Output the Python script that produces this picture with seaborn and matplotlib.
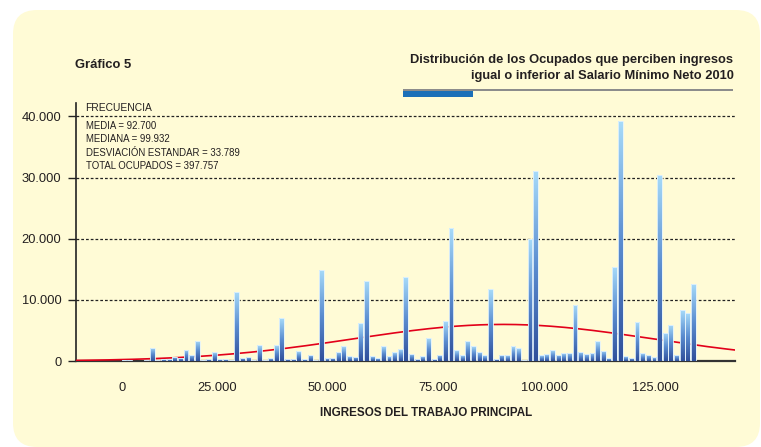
import numpy as np
import pandas as pd
import matplotlib
matplotlib.use('Agg')
import matplotlib.pyplot as plt
import seaborn as sns
from matplotlib.patches import FancyBboxPatch, Rectangle
from matplotlib.transforms import IdentityTransform, ScaledTranslation
from matplotlib.colors import LinearSegmentedColormap
from matplotlib.ticker import FuncFormatter

# histogram bins of income (pesos) and number of employed in each
primer_tramo = 5750
ancho_tramo = 1274
frecuencia = [
    80, 120, 165, 50, 50, 200,
    2200, 150, 300, 300, 700, 550, 1800, 1050, 3350, 100,
    400, 1400, 300, 300, 100, 11300, 550, 700, 100, 2600,
    150, 450, 2600, 7000, 400, 350, 1600, 300, 1050, 100,
    14900, 450, 550, 1500, 2400, 800, 700, 6150, 13100, 800,
    450, 2400, 750, 1400, 1900, 13700, 1200, 400, 750, 3700,
    400, 1050, 6500, 21700, 1750, 950, 3300, 2400, 1500, 950,
    11750, 400, 1050, 950, 2400, 2100, 100, 20000, 31100, 900,
    1100, 1750, 1050, 1250, 1350, 9200, 1500, 1200, 1350, 3200,
    1700, 450, 15400, 39200, 800, 550, 6300, 1300, 1050, 600,
    30500, 4650, 5900, 1050, 8300, 7800, 12600,
]
ingreso = primer_tramo + ancho_tramo * np.arange(len(frecuencia))

media = 92700
mediana = 99932
desviacion = 33789
total = 397757

x_ticks = [0, 25000, 50000, 75000, 100000, 125000]
y_ticks = [0, 10000, 20000, 30000, 40000]

df = pd.DataFrame({'ingreso': ingreso, 'frecuencia': frecuencia})

sns.set_theme(style='white')
# no condensed face installed, so Liberation Sans at slightly smaller sizes
plt.rcParams['font.family'] = ['Liberation Sans', 'DejaVu Sans']
texto = '#231f20'

W, H = 761, 447
fig = plt.figure(figsize=(W / 100, H / 100), dpi=100, facecolor='white')

# cream rounded panel
fondo = FancyBboxPatch((13, 0), 747, 437, boxstyle='round,pad=0,rounding_size=24',
                       transform=IdentityTransform(), fc='#fffbd6', ec='none', zorder=0)
fig.add_artist(fondo)

ax = fig.add_axes([76 / W, 1 - 361 / H, (735 - 76) / W, (361 - 103) / H])
ax.set_facecolor('none')

sns.barplot(data=df, x='ingreso', y='frecuencia', native_scale=True, width=0.86,
            color='#4a74bb', errorbar=None, ax=ax, zorder=4)

# vertical gradient inside every bar
cmap = LinearSegmentedColormap.from_list('azul', ['#30509b', '#5b8dd0', '#a6daf9'])
grad = np.linspace(0, 1, 64).reshape(-1, 1)
for p in list(ax.patches):
    x0, y0, w, h = p.get_x(), p.get_y(), p.get_width(), p.get_height()
    if h <= 0:
        continue
    im = ax.imshow(grad, extent=(x0, x0 + w, y0, y0 + h), origin='lower', cmap=cmap,
                   aspect='auto', interpolation='bilinear', zorder=4)
    im.set_clip_path(p)
    p.set_facecolor('none')
    p.set_edgecolor('#e4f3fc')
    p.set_linewidth(0.6)
    p.set_zorder(5)

# fitted normal curve
xs = np.linspace(-3840, 145100, 500)
ys = total * ancho_tramo * np.exp(-0.5 * ((xs - media) / desviacion) ** 2) / (desviacion * np.sqrt(2 * np.pi))
sns.lineplot(x=xs, y=ys, color='#e2001a', linewidth=1.2, ax=ax, zorder=3)

for v in y_ticks[1:]:
    ax.axhline(v, color='#222222', linestyle=(0, (2.2, 1.6)), linewidth=0.9, zorder=2)

ax.set_xlim(-3840, 145100)
ax.set_ylim(0, 42200)

sns.despine(ax=ax, top=True, right=True)
ax.spines['left'].set_color('#222222')
ax.spines['left'].set_linewidth(1.2)
ax.spines['bottom'].set_color('#333333')
ax.spines['bottom'].set_linewidth(1.6)

fmt = FuncFormatter(lambda v, p: f'{v:,.0f}'.replace(',', '.'))
ax.set_yticks(y_ticks)
ax.yaxis.set_major_formatter(fmt)
ax.tick_params(axis='y', direction='out', length=6, width=1, color='#222222',
               pad=4.5, labelsize=9.3, labelcolor=texto, left=True)
ax.set_xticks(x_ticks)
ax.set_xticklabels([fmt(v, None) for v in x_ticks], ha='right')
ax.tick_params(axis='x', length=0, pad=15, labelsize=9.3, labelcolor=texto)
desplaza = ScaledTranslation(33 / 100, 0, fig.dpi_scale_trans)
for lab in ax.get_xticklabels():
    lab.set_transform(lab.get_transform() + desplaza)
ax.set_xlabel('')
ax.set_ylabel('')
ax.legend_ = None


def fy(y):
    return 1 - y / H


fig.text(75 / W, fy(65), 'Gráfico 5', fontsize=9.4, fontweight='bold', color=texto,
         ha='left', va='center')
fig.text(733.5 / W, fy(59.5), 'Distribución de los Ocupados que perciben ingresos',
         fontsize=9.3, fontweight='bold', color=texto, ha='right', va='center')
fig.text(733.5 / W, fy(75.5), 'igual o inferior al Salario Mínimo Neto 2010',
         fontsize=9.3, fontweight='bold', color=texto, ha='right', va='center')
fig.add_artist(Rectangle((403, H - 90.7), 330, 1.4, transform=IdentityTransform(),
                         fc='#8c8c8c', ec='none'))
fig.add_artist(Rectangle((403, H - 96.7), 70, 6, transform=IdentityTransform(),
                         fc='#1b6fb8', ec='none'))

fig.text(85 / W, fy(107.7), 'FRECUENCIA', fontsize=7.4, color=texto, ha='left', va='center')
estad = [f'MEDIA = {media:,}'.replace(',', '.'),
         f'MEDIANA = {mediana:,}'.replace(',', '.'),
         f'DESVIACIÓN ESTANDAR = {desviacion:,}'.replace(',', '.'),
         f'TOTAL OCUPADOS = {total:,}'.replace(',', '.')]
for i, s in enumerate(estad):
    fig.text(86 / W, fy(126 + 13.3 * i), s, fontsize=6.9, color=texto, ha='left', va='center')

fig.text(426 / W, fy(413), 'INGRESOS DEL TRABAJO PRINCIPAL', fontsize=8.4,
         fontweight='bold', color=texto, ha='center', va='center')

fig.savefig('out.png', dpi=100, facecolor='white')
